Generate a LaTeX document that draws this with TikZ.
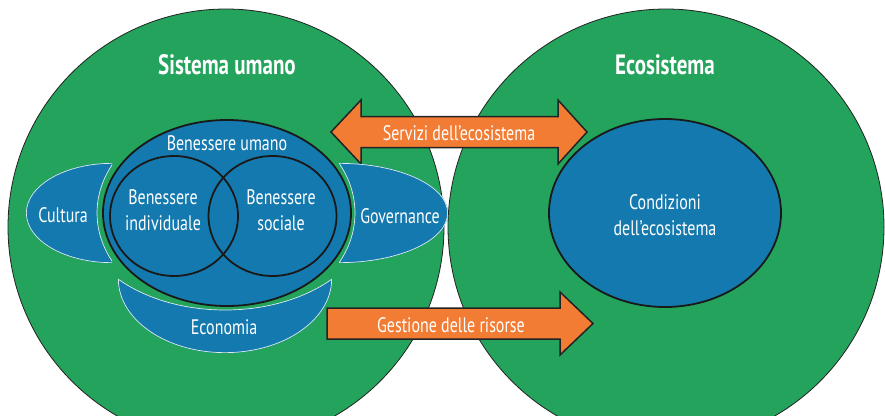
\documentclass[tikz,border=0pt]{standalone}
\usepackage{fontspec}
\setmainfont{PT Sans}[FakeStretch=0.76]
\newfontfamily\ttlfont{PT Sans}[FakeStretch=0.75]
\definecolor{grn}{RGB}{35,163,92}
\definecolor{blu}{RGB}{20,121,174}
\definecolor{org}{RGB}{243,124,52}
\definecolor{edge}{RGB}{35,35,35}
\begin{document}
\begin{tikzpicture}[x=1pt,y=-1pt,
  lbl/.style={text=white, align=center, inner sep=0pt, font=\fontsize{21}{26}\selectfont},
  ttl/.style={text=white, inner sep=0pt, font=\ttlfont\bfseries\fontsize{28}{32}\selectfont},
  world/.style={fill=grn, draw=edge, line width=0.8pt},
  inner/.style={fill=blu, draw=black!90, line width=1.8pt},
  ring/.style={draw=black!90, line width=1.8pt},
  blobline/.style={draw=white!85!blu, line width=0.7pt},
  blockarrow/.style={fill=org, draw=edge, line width=1.5pt, line join=miter}]
\fill[white] (0,0) rectangle (885,415);
\useasboundingbox (0,0) rectangle (885,415);
\clip (0,0) rectangle (885,415);
% the two systems
\path[world] (226,227) circle[radius=218];
\path[world] (666,227) circle[radius=218];
% block arrows
\path[blockarrow] (331,132) -- (361,100) -- (361,116.5) -- (558,116.5) -- (558,100) -- (587,132)
  -- (558,164) -- (558,147.5) -- (361,147.5) -- (361,164) -- cycle;
\path[blockarrow] (327,308) -- (560,308) -- (560,292) -- (593,323.5) -- (560,355) -- (560,339)
  -- (327,339) -- cycle;
% Cultura blob
\begin{scope}
  \clip (112,213) ellipse[x radius=86, y radius=50];
  \clip (0,0) rectangle (112,415);
  \fill[blu, even odd rule] (0,0) rectangle (885,415) (227,213) ellipse[x radius=130, y radius=103];
  \path[blobline] (227,213) ellipse[x radius=130, y radius=103];
  \draw[white!85!blu, line width=1.4pt] (112,213) ellipse[x radius=86, y radius=50];
\end{scope}
% Governance blob
\begin{scope}
  \clip (339,213) ellipse[x radius=109, y radius=50];
  \clip (339,0) rectangle (885,415);
  \fill[blu, even odd rule] (0,0) rectangle (885,415) (227,213) ellipse[x radius=128, y radius=103];
  \path[blobline] (227,213) ellipse[x radius=128, y radius=103];
  \draw[white!85!blu, line width=1.4pt] (339,213) ellipse[x radius=109, y radius=50];
\end{scope}
% Economia blob
\begin{scope}
  \clip (225,279) ellipse[x radius=107, y radius=74];
  \clip (0,279) rectangle (885,415);
  \fill[blu, even odd rule] (0,0) rectangle (885,415) (225,213) ellipse[x radius=146, y radius=97];
  \path[blobline] (225,213) ellipse[x radius=146, y radius=97];
  \draw[white!85!blu, line width=1.4pt] (225,279) ellipse[x radius=107, y radius=74];
\end{scope}
% human well-being
\path[inner] (227,213) ellipse[x radius=124, y radius=93];
\path[ring] (174,216) ellipse[x radius=64, y radius=60];
\path[ring] (272.5,216) ellipse[x radius=64, y radius=60];
% ecosystem conditions
\path[inner] (665,213) ellipse[x radius=116, y radius=94];
% texts
\node[ttl] (sis) at (227,65) {Sistema umano};
\node[ttl] (eco) at (665,65) {Ecosistema};
\node[lbl] (bu) at (227,143) {Benessere umano};
\node[lbl] (bi) at (163,210) {Benessere\\individuale};
\node[lbl] (bs) at (281,210) {Benessere\\sociale};
\node[lbl] (cul) at (63,215) {Cultura};
\node[lbl] (gov) at (400,216) {Governance};
\node[lbl] (ecn) at (224,327) {Economia};
\node[lbl] (ser) at (459,133) {Servizi dell’ecosistema};
\node[lbl] (ges) at (451,325) {Gestione delle risorse};
\node[lbl] (cond) at (665,215) {Condizioni\\dell’ecosistema};
\end{tikzpicture}
\end{document}
